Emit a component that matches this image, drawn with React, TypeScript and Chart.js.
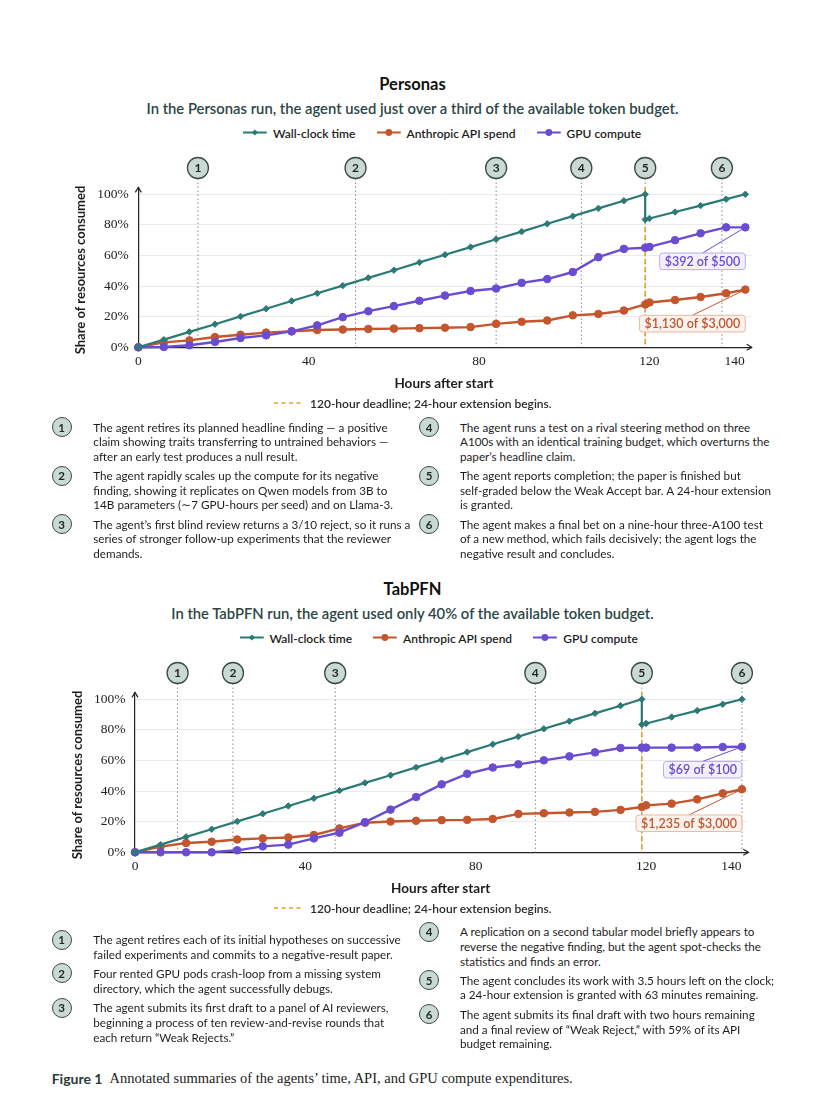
import React, { useEffect, useRef } from 'react';
import { Chart, registerables } from 'chart.js';

Chart.register(...registerables);

// ---------- data ----------
const X_TICKS = [0, 40, 80, 120, 140];
const Y_TICKS = [0, 20, 40, 60, 80, 100];

const WALL_HOURS = [0, 6, 12, 18, 24, 30, 36, 42, 48, 54, 60, 66, 72, 78, 84, 90, 96, 102, 108, 114, 119, 119, 120, 126, 132, 138, 142.5];
const SPEND_HOURS = [0, 6, 12, 18, 24, 30, 36, 42, 48, 54, 60, 66, 72, 78, 84, 90, 96, 102, 108, 114, 119, 120, 126, 132, 138, 142.5];

const PERSONAS_WALL = [0, 5.0, 10.1, 15.1, 20.2, 25.2, 30.3, 35.3, 40.3, 45.4, 50.4, 55.5, 60.5, 65.5, 70.6, 75.6, 80.7, 85.7, 90.8, 95.8, 100, 83.5, 84.2, 88.4, 92.6, 96.8, 100];
const PERSONAS_API = [0, 3.2, 4.5, 6.7, 8.2, 9.6, 10.5, 11.3, 11.6, 12.0, 12.2, 12.5, 12.8, 13.2, 15.3, 16.7, 17.5, 20.9, 21.8, 24.0, 28.0, 29.3, 30.9, 32.9, 35.3, 37.7];
const PERSONAS_GPU = [0, 0.2, 1.3, 3.5, 6.1, 7.8, 10.4, 14.3, 19.7, 23.6, 26.9, 30.4, 33.8, 36.8, 38.4, 42.1, 44.6, 49.2, 58.9, 64.3, 65.1, 65.6, 70.0, 74.5, 78.4, 78.4];
const PERSONAS_MARKERS = [14, 51, 84, 104, 119, 137];

const TABPFN_WALL = [0, 5.0, 10.1, 15.1, 20.2, 25.2, 30.3, 35.3, 40.3, 45.4, 50.4, 55.5, 60.5, 65.5, 70.6, 75.6, 80.7, 85.7, 90.8, 95.8, 100, 83.5, 84.2, 88.4, 92.6, 96.8, 100];
const TABPFN_API = [0, 3.7, 6.1, 6.9, 8.4, 9.1, 9.7, 11.3, 15.6, 19.3, 20.1, 20.6, 21.0, 21.2, 21.8, 25.1, 25.5, 26.0, 26.4, 27.7, 29.6, 30.7, 31.8, 34.6, 38.5, 41.2];
const TABPFN_GPU = [0, 0, 0, 0, 1.3, 3.9, 5.0, 9.1, 12.8, 19.7, 27.9, 36.1, 44.4, 51.3, 55.4, 57.5, 60.1, 62.7, 65.3, 68.2, 68.4, 68.4, 68.4, 68.5, 68.8, 69.0];
const TABPFN_MARKERS = [10, 23, 47, 94, 119, 142.5];

const DEADLINE_HOUR = 119;

const SERIES_NAMES = ['Wall-clock time', 'Anthropic API spend', 'GPU compute'];

const PERSONAS_NOTES_LEFT = [
  ['The agent retires its planned headline finding — a positive', 'claim showing traits transferring to untrained behaviors —', 'after an early test produces a null result.'],
  ['The agent rapidly scales up the compute for its negative', 'finding, showing it replicates on Qwen models from 3B to', '14B parameters (∼7 GPU-hours per seed) and on Llama-3.'],
  ['The agent’s first blind review returns a 3/10 reject, so it runs a', 'series of stronger follow-up experiments that the reviewer', 'demands.'],
];
const PERSONAS_NOTES_RIGHT = [
  ['The agent runs a test on a rival steering method on three', 'A100s with an identical training budget, which overturns the', 'paper’s headline claim.'],
  ['The agent reports completion; the paper is finished but', 'self-graded below the Weak Accept bar. A 24-hour extension', 'is granted.'],
  ['The agent makes a final bet on a nine-hour three-A100 test', 'of a new method, which fails decisively; the agent logs the', 'negative result and concludes.'],
];
const TABPFN_NOTES_LEFT = [
  ['The agent retires each of its initial hypotheses on successive', 'failed experiments and commits to a negative-result paper.'],
  ['Four rented GPU pods crash-loop from a missing system', 'directory, which the agent successfully debugs.'],
  ['The agent submits its first draft to a panel of AI reviewers,', 'beginning a process of ten review-and-revise rounds that', 'each return “Weak Rejects.”'],
];
const TABPFN_NOTES_RIGHT = [
  ['A replication on a second tabular model briefly appears to', 'reverse the negative finding, but the agent spot-checks the', 'statistics and finds an error.'],
  ['The agent concludes its work with 3.5 hours left on the clock;', 'a 24-hour extension is granted with 63 minutes remaining.'],
  ['The agent submits its final draft with two hours remaining', 'and a final review of “Weak Reject,” with 59% of its API', 'budget remaining.'],
];

// ---------- style ----------
const TEAL = '#2b7a75';
const ORANGE = '#c4552c';
const PURPLE = '#6a4cd2';
const DEADLINE_COLOR = '#e2a324';
const CIRCLE_FILL = '#cbd9d5';
const CIRCLE_STROKE = '#3a4a48';
const FONT = 'Lato, "Open Sans", sans-serif';
const TICK_FONT = '"Liberation Serif", "DejaVu Serif", serif';
const LH = 14.6;

type PlotProps = {
  top: number;
  wall: number[];
  api: number[];
  gpu: number[];
  markers: number[];
  plotLeft: number;
  plotRight: number;
  apiLabel: string;
  gpuLabel: string;
  apiDy: number;
  gpuDy: number;
};

const CANVAS_W = 820;
const CANVAS_H = 240;
const PLOT_TOP = 47.4;
const PLOT_BOTTOM = 207.3;
const Y_SCALE_W = 60;
const X_SCALE_H = 25;

function PlotChart(p: PlotProps) {
  const ref = useRef<HTMLCanvasElement>(null);
  useEffect(() => {
    const canvas = ref.current!;
    const pts = (hs: number[], vs: number[]) => hs.map((h, i) => ({ x: h, y: vs[i] }));

    const decor = {
      id: 'decor',
      beforeDatasetsDraw(chart: any) {
        const { ctx, chartArea, scales } = chart;
        const xs = scales.x;
        const cy = chartArea.top - 19.4;
        ctx.save();
        ctx.strokeStyle = '#8c8c8c';
        ctx.lineWidth = 1;
        ctx.setLineDash([1.5, 2.5]);
        p.markers.forEach((h) => {
          const x = xs.getPixelForValue(h);
          ctx.beginPath();
          ctx.moveTo(x, cy + 10.5);
          ctx.lineTo(x, chartArea.bottom);
          ctx.stroke();
        });
        ctx.strokeStyle = DEADLINE_COLOR;
        ctx.lineWidth = 1.6;
        ctx.setLineDash([5, 3]);
        const dxp = xs.getPixelForValue(DEADLINE_HOUR);
        ctx.beginPath();
        ctx.moveTo(dxp, chartArea.top);
        ctx.lineTo(dxp, chartArea.bottom);
        ctx.stroke();
        ctx.restore();
      },
      afterDraw(chart: any) {
        const { ctx, chartArea, scales } = chart;
        const xs = scales.x;
        const cy = chartArea.top - 19.4;
        ctx.save();
        // axis arrows
        ctx.strokeStyle = '#222';
        ctx.lineWidth = 1.2;
        ctx.setLineDash([]);
        ctx.beginPath();
        ctx.moveTo(chartArea.right - 5, chartArea.bottom - 3);
        ctx.lineTo(chartArea.right, chartArea.bottom);
        ctx.lineTo(chartArea.right - 5, chartArea.bottom + 3);
        ctx.stroke();
        ctx.beginPath();
        ctx.moveTo(chartArea.left - 3, chartArea.top + 5);
        ctx.lineTo(chartArea.left, chartArea.top);
        ctx.lineTo(chartArea.left + 3, chartArea.top + 5);
        ctx.stroke();
        // numbered circles
        p.markers.forEach((h, i) => {
          const x = xs.getPixelForValue(h);
          ctx.beginPath();
          ctx.arc(x, cy, 10.5, 0, Math.PI * 2);
          ctx.fillStyle = CIRCLE_FILL;
          ctx.fill();
          ctx.lineWidth = 1.3;
          ctx.strokeStyle = CIRCLE_STROKE;
          ctx.stroke();
          ctx.fillStyle = '#1c2827';
          ctx.font = `700 12px ${FONT}`;
          ctx.textAlign = 'center';
          ctx.textBaseline = 'middle';
          ctx.fillText(String(i + 1), x, cy + 0.5);
        });
        // callouts
        const callout = (dsIndex: number, text: string, dy: number, color: string, fill: string, border: string) => {
          const meta = chart.getDatasetMeta(dsIndex);
          const pt = meta.data[meta.data.length - 1];
          ctx.font = `600 12.5px ${FONT}`;
          const w = ctx.measureText(text).width + 10;
          const h = 16.6;
          const right = pt.x;
          const left = right - w;
          const top = pt.y + dy;
          ctx.strokeStyle = color;
          ctx.lineWidth = 1;
          ctx.beginPath();
          ctx.moveTo(left + w / 2, top);
          ctx.lineTo(pt.x, pt.y);
          ctx.stroke();
          ctx.beginPath();
          ctx.roundRect(left, top, w, h, 3);
          ctx.fillStyle = fill;
          ctx.fill();
          ctx.strokeStyle = border;
          ctx.stroke();
          ctx.fillStyle = color;
          ctx.textAlign = 'center';
          ctx.textBaseline = 'middle';
          ctx.fillText(text, left + w / 2, top + h / 2 + 0.5);
        };
        callout(2, p.gpuLabel, p.gpuDy, PURPLE, '#f4f1fd', '#b9aaee');
        callout(1, p.apiLabel, p.apiDy, ORANGE, '#fcf2ed', '#e8b9a5');
        ctx.restore();
      },
    };

    const chart = new Chart(canvas, {
      type: 'line',
      data: {
        datasets: [
          {
            label: SERIES_NAMES[0],
            data: pts(WALL_HOURS, p.wall),
            borderColor: TEAL,
            backgroundColor: TEAL,
            borderWidth: 2.2,
            pointStyle: 'rectRot',
            pointRadius: 3.2,
            pointBorderWidth: 1,
            clip: false,
            order: 0,
          },
          {
            label: SERIES_NAMES[1],
            data: pts(SPEND_HOURS, p.api),
            borderColor: ORANGE,
            backgroundColor: ORANGE,
            borderWidth: 2.4,
            pointStyle: 'circle',
            pointRadius: 3.8,
            pointBorderWidth: 1,
            clip: false,
            order: 2,
          },
          {
            label: SERIES_NAMES[2],
            data: pts(SPEND_HOURS, p.gpu),
            borderColor: PURPLE,
            backgroundColor: PURPLE,
            borderWidth: 2.4,
            pointStyle: 'circle',
            pointRadius: 3.8,
            pointBorderWidth: 1,
            clip: false,
            order: 1,
          },
        ] as any,
      },
      options: {
        animation: false,
        responsive: false,
        maintainAspectRatio: false,
        events: [],
        layout: {
          padding: {
            left: p.plotLeft - Y_SCALE_W,
            right: CANVAS_W - p.plotRight,
            top: PLOT_TOP,
            bottom: CANVAS_H - PLOT_BOTTOM - X_SCALE_H,
          },
        },
        plugins: { legend: { display: false }, tooltip: { enabled: false }, title: { display: false } },
        scales: {
          x: {
            type: 'linear',
            min: 0,
            max: 144,
            afterBuildTicks: (s: any) => {
              s.ticks = X_TICKS.map((v) => ({ value: v }));
            },
            afterFit: (s: any) => {
              s.height = X_SCALE_H;
            },
            grid: { display: true, color: 'rgba(0,0,0,0)', drawTicks: false },
            border: { display: true, color: '#222', width: 1.2 },
            ticks: {
              padding: 6,
              maxRotation: 0,
              autoSkip: false,
              color: '#222',
              font: { family: TICK_FONT, size: 13.5 },
              callback: (v: any) => String(v),
            },
          },
          y: {
            type: 'linear',
            min: 0,
            max: 104.5,
            afterBuildTicks: (s: any) => {
              s.ticks = Y_TICKS.map((v) => ({ value: v }));
            },
            afterFit: (s: any) => {
              s.width = Y_SCALE_W;
            },
            grid: { display: true, color: '#ebebeb', lineWidth: 1, drawTicks: false },
            border: { display: true, color: '#222', width: 1.2 },
            ticks: {
              padding: 9.5,
              autoSkip: false,
              color: '#222',
              font: { family: TICK_FONT, size: 13.5 },
              callback: (v: any) => `${v}%`,
            },
          },
        } as any,
      },
      plugins: [decor],
    });
    return () => chart.destroy();
  }, []);
  return (
    <canvas
      ref={ref}
      width={CANVAS_W}
      height={CANVAS_H}
      style={{ position: 'absolute', left: 0, top: p.top, width: CANVAS_W, height: CANVAS_H }}
    />
  );
}

function Centered({ cx, cy, children, style }: any) {
  return (
    <div
      style={{
        position: 'absolute',
        left: cx,
        top: cy,
        transform: 'translate(-50%, -50%)',
        whiteSpace: 'nowrap',
        ...style,
      }}
    >
      {children}
    </div>
  );
}

function LegendSwatch({ color, diamond }: { color: string; diamond?: boolean }) {
  return (
    <svg width={24} height={10} style={{ display: 'block' }}>
      <line x1={0} y1={5} x2={24} y2={5} stroke={color} strokeWidth={2.2} />
      {diamond ? (
        <rect x={9.8} y={2.8} width={4.4} height={4.4} fill={color} transform="rotate(45 12 5)" />
      ) : (
        <circle cx={12} cy={5} r={3.4} fill={color} />
      )}
    </svg>
  );
}

function Legend({ cx, cy }: { cx: number; cy: number }) {
  const items = [
    { color: TEAL, diamond: true, label: SERIES_NAMES[0] },
    { color: ORANGE, diamond: false, label: SERIES_NAMES[1] },
    { color: PURPLE, diamond: false, label: SERIES_NAMES[2] },
  ];
  return (
    <Centered cx={cx} cy={cy} style={{ display: 'flex', alignItems: 'center', gap: 21 }}>
      {items.map((it) => (
        <span key={it.label} style={{ display: 'flex', alignItems: 'center', gap: 6 }}>
          <LegendSwatch color={it.color} diamond={it.diamond} />
          <span style={{ font: `600 12px ${FONT}`, color: '#1d1d1d' }}>{it.label}</span>
        </span>
      ))}
    </Centered>
  );
}

function NumCircle({ cx, cy, n }: { cx: number; cy: number; n: number }) {
  return (
    <div
      style={{
        position: 'absolute',
        left: cx - 10,
        top: cy - 10,
        width: 20,
        height: 20,
        borderRadius: '50%',
        background: CIRCLE_FILL,
        border: `1.3px solid ${CIRCLE_STROKE}`,
        boxSizing: 'border-box',
        display: 'flex',
        alignItems: 'center',
        justifyContent: 'center',
        font: `700 11.5px ${FONT}`,
        color: '#1c2827',
      }}
    >
      {n}
    </div>
  );
}

function Notes({ notes, start, circleX, textX, ys }: { notes: string[][]; start: number; circleX: number; textX: number; ys: number[] }) {
  return (
    <>
      {notes.map((lines, i) => (
        <React.Fragment key={i}>
          <NumCircle cx={circleX} cy={ys[i]} n={start + i} />
          <div
            style={{
              position: 'absolute',
              left: textX,
              top: ys[i] - LH / 2,
              font: `400 11.7px/${LH}px ${FONT}`,
              color: '#1e1e1e',
              whiteSpace: 'pre',
            }}
          >
            {lines.join('\n')}
          </div>
        </React.Fragment>
      ))}
    </>
  );
}

function DeadlineKey({ cy }: { cy: number }) {
  return (
    <div style={{ position: 'absolute', left: 274, top: cy - 9, height: 18, display: 'flex', alignItems: 'center' }}>
      <svg width={28} height={4} style={{ display: 'block' }}>
        <line x1={0} y1={2} x2={28} y2={2} stroke={DEADLINE_COLOR} strokeWidth={1.6} strokeDasharray="4 3.5" />
      </svg>
      <span style={{ marginLeft: 8, font: `600 12px ${FONT}`, color: '#2a2a2a', whiteSpace: 'nowrap' }}>
        120-hour deadline; 24-hour extension begins.
      </span>
    </div>
  );
}

function Section({
  offset,
  title,
  subtitle,
  plotLeft,
  plotRight,
  wall,
  api,
  gpu,
  markers,
  apiLabel,
  gpuLabel,
  apiDy,
  gpuDy,
  yTitleX,
}: any) {
  const plotCx = (plotLeft + plotRight - 6) / 2;
  return (
    <>
      <Centered cx={412.5} cy={84 + offset} style={{ font: `700 16.5px ${FONT}`, color: '#111' }}>
        {title}
      </Centered>
      <Centered cx={412.5} cy={107.7 + offset} style={{ font: `600 14.8px ${FONT}`, color: '#2c4646' }}>
        {subtitle}
      </Centered>
      <Legend cx={plotCx} cy={132.7 + offset} />
      <PlotChart
        top={140 + offset}
        wall={wall}
        api={api}
        gpu={gpu}
        markers={markers}
        plotLeft={plotLeft}
        plotRight={plotRight}
        apiLabel={apiLabel}
        gpuLabel={gpuLabel}
        apiDy={apiDy}
        gpuDy={gpuDy}
      />
      <Centered cx={plotCx + 2} cy={383 + offset} style={{ font: `700 13.5px ${FONT}`, color: '#1d1d1d' }}>
        Hours after start
      </Centered>
      <Centered
        cx={yTitleX}
        cy={270 + offset}
        style={{ font: `700 13px ${FONT}`, color: '#1d1d1d', transform: 'translate(-50%, -50%) rotate(-90deg)' }}
      >
        Share of resources consumed
      </Centered>
      <DeadlineKey cy={403.3 + offset} />
    </>
  );
}

export default function App() {
  return (
    <div style={{ position: 'absolute', left: 0, top: 0, width: 820, height: 1120, background: '#fff', overflow: 'hidden' }}>
      <Section
        offset={0}
        title="Personas"
        subtitle="In the Personas run, the agent used just over a third of the available token budget."
        plotLeft={138.3}
        plotRight={751.7}
        wall={PERSONAS_WALL}
        api={PERSONAS_API}
        gpu={PERSONAS_GPU}
        markers={PERSONAS_MARKERS}
        apiLabel="$1,130 of $3,000"
        gpuLabel="$392 of $500"
        apiDy={25.7}
        gpuDy={25.7}
        yTitleX={80}
      />
      <Notes notes={PERSONAS_NOTES_LEFT} start={1} circleX={61.7} textX={93.3} ys={[427, 475.5, 524.2]} />
      <Notes notes={PERSONAS_NOTES_RIGHT} start={4} circleX={429} textX={460} ys={[427, 475.5, 524.2]} />

      <Section
        offset={505}
        title="TabPFN"
        subtitle="In the TabPFN run, the agent used only 40% of the available token budget."
        plotLeft={135}
        plotRight={748.3}
        wall={TABPFN_WALL}
        api={TABPFN_API}
        gpu={TABPFN_GPU}
        markers={TABPFN_MARKERS}
        apiLabel="$1,235 of $3,000"
        gpuLabel="$69 of $100"
        apiDy={25.7}
        gpuDy={14.7}
        yTitleX={77}
      />
      <Notes notes={TABPFN_NOTES_LEFT} start={1} circleX={61.7} textX={93.3} ys={[939.5, 973.3, 1007.7]} />
      <Notes notes={TABPFN_NOTES_RIGHT} start={4} circleX={429} textX={460} ys={[931.7, 980, 1014.3]} />

      <div style={{ position: 'absolute', left: 51.7, top: 1078 - 10, height: 20, display: 'flex', alignItems: 'center', whiteSpace: 'nowrap' }}>
        <span style={{ font: `700 14px ${FONT}`, color: '#2a3a3a' }}>Figure 1</span>
        <span style={{ marginLeft: 7, font: `400 14.5px ${TICK_FONT}`, color: '#222' }}>
          Annotated summaries of the agents’ time, API, and GPU compute expenditures.
        </span>
      </div>
    </div>
  );
}
